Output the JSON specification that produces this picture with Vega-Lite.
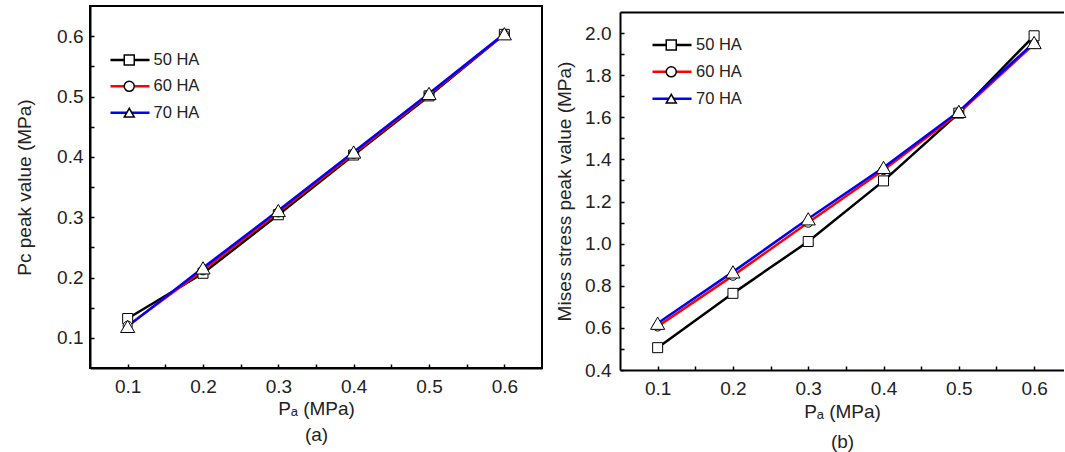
{
 "$schema": "https://vega.github.io/schema/vega-lite/v6.json",
 "padding": {"left": 14, "top": 5, "right": 0, "bottom": 0},
 "spacing": 12,
 "background": "white",
 "resolve": {"scale": {"color": "independent", "shape": "independent"}, "legend": {"color": "independent", "shape": "independent"}},
 "config": {
  "font": "Liberation Sans",
  "view": {"stroke": "black", "strokeWidth": 2},
  "axis": {"domainColor": "black", "domainWidth": 2, "tickColor": "black", "tickWidth": 1.5, "tickSize": -4, "grid": false,
   "labelFont": "Liberation Sans", "labelFontSize": 19, "labelColor": "#222", "titleFont": "Liberation Sans", "titleFontSize": 19,
   "titleFontWeight": "normal", "titleColor": "#222", "labelOverlap": false, "labelFlush": false},
  "legend": {"orient": "none", "padding": 0, "labelFont": "Liberation Sans", "labelFontSize": 16.5, "labelColor": "#222", "clipHeight": 16}
 },
 "datasets": {
  "a": [
   {"series": "50 HA", "pa": 0.1, "v": 0.132}, {"series": "50 HA", "pa": 0.2, "v": 0.207}, {"series": "50 HA", "pa": 0.3, "v": 0.304},
   {"series": "50 HA", "pa": 0.4, "v": 0.403}, {"series": "50 HA", "pa": 0.5, "v": 0.501}, {"series": "50 HA", "pa": 0.6, "v": 0.603},
   {"series": "60 HA", "pa": 0.1, "v": 0.12}, {"series": "60 HA", "pa": 0.2, "v": 0.212}, {"series": "60 HA", "pa": 0.3, "v": 0.308},
   {"series": "60 HA", "pa": 0.4, "v": 0.405}, {"series": "60 HA", "pa": 0.5, "v": 0.503}, {"series": "60 HA", "pa": 0.6, "v": 0.603},
   {"series": "70 HA", "pa": 0.1, "v": 0.119}, {"series": "70 HA", "pa": 0.2, "v": 0.216}, {"series": "70 HA", "pa": 0.3, "v": 0.311},
   {"series": "70 HA", "pa": 0.4, "v": 0.408}, {"series": "70 HA", "pa": 0.5, "v": 0.505}, {"series": "70 HA", "pa": 0.6, "v": 0.604}
  ],
  "b": [
   {"series": "50 HA", "pa": 0.1, "v": 0.506}, {"series": "50 HA", "pa": 0.2, "v": 0.764}, {"series": "50 HA", "pa": 0.3, "v": 1.01},
   {"series": "50 HA", "pa": 0.4, "v": 1.298}, {"series": "50 HA", "pa": 0.5, "v": 1.62}, {"series": "50 HA", "pa": 0.6, "v": 1.987},
   {"series": "60 HA", "pa": 0.1, "v": 0.607}, {"series": "60 HA", "pa": 0.2, "v": 0.848}, {"series": "60 HA", "pa": 0.3, "v": 1.1},
   {"series": "60 HA", "pa": 0.4, "v": 1.35}, {"series": "60 HA", "pa": 0.5, "v": 1.62}, {"series": "60 HA", "pa": 0.6, "v": 1.948},
   {"series": "70 HA", "pa": 0.1, "v": 0.622}, {"series": "70 HA", "pa": 0.2, "v": 0.866}, {"series": "70 HA", "pa": 0.3, "v": 1.118},
   {"series": "70 HA", "pa": 0.4, "v": 1.362}, {"series": "70 HA", "pa": 0.5, "v": 1.628}, {"series": "70 HA", "pa": 0.6, "v": 1.955}
  ]
 },
 "hconcat": [
  {
   "data": {"name": "a"},
   "width": 452,
   "height": 362,
   "encoding": {
    "x": {"field": "pa", "type": "quantitative", "scale": {"domain": [0.05, 0.65], "nice": false, "zero": false},
     "axis": {"orient": "bottom", "values": [0.1, 0.15, 0.2, 0.25, 0.3, 0.35, 0.4, 0.45, 0.5, 0.55, 0.6],
      "labelExpr": "round(datum.value*100)%10==0 ? format(datum.value,'.1f') : ''",
      "labelPadding": 13.5, "title": ["Pₐ (MPa)", "(a)"], "titlePadding": 3, "titleLineHeight": 26}},
    "y": {"field": "v", "type": "quantitative", "scale": {"domain": [0.05, 0.65], "nice": false, "zero": false},
     "axis": {"values": [0.1, 0.15, 0.2, 0.25, 0.3, 0.35, 0.4, 0.45, 0.5, 0.55, 0.6],
      "labelExpr": "round(datum.value*100)%10==0 ? format(datum.value,'.1f') : ''",
      "labelPadding": 11, "title": "Pc peak value (MPa)", "titlePadding": 22}}
   },
   "layer": [
    {"mark": {"type": "line", "strokeWidth": 2.5},
     "encoding": {"color": {"field": "series", "type": "nominal",
      "scale": {"domain": ["50 HA", "60 HA", "70 HA"], "range": ["#000000", "#ff0000", "#0000ff"]},
      "legend": {"title": null, "symbolType": "stroke", "symbolSize": 1521, "symbolStrokeWidth": 2.5, "labelOffset": 2.5,
       "legendX": 19, "legendY": 46, "rowPadding": 9.35}}}},
    {"mark": {"type": "point", "filled": true, "fill": "white", "stroke": "black", "strokeWidth": 1, "opacity": 1},
     "encoding": {
      "size": {"condition": [{"test": "datum.series === '70 HA'", "value": 200}, {"test": "datum.series === '60 HA'", "value": 85}], "value": 100},
      "shape": {"field": "series", "type": "nominal", "scale": {"range": ["square", "circle", "triangle-up"]},
      "legend": {"title": null, "symbolSize": 100, "labelExpr": "''", "legendX": 31, "legendY": 46, "rowPadding": 9.35,
       "encode": {"symbols": {"update": {"stroke": {"value": "black"}, "strokeWidth": {"value": 1}, "fill": {"value": "white"}, "opacity": {"value": 1},
        "size": {"signal": "datum.value === '70 HA' ? 170 : datum.value === '60 HA' ? 80 : 100"}}}}}}}}
   ]
  },
  {
   "data": {"name": "b"},
   "width": 444,
   "height": 364,
   "view": {"stroke": null},
   "encoding": {
    "y": {"field": "v", "type": "quantitative", "scale": {"domain": [0.4, 2.1], "range": [364, 6], "nice": false, "zero": false},
     "axis": {"values": [0.4, 0.5, 0.6, 0.7, 0.8, 0.9, 1.0, 1.1, 1.2, 1.3, 1.4, 1.5, 1.6, 1.7, 1.8, 1.9, 2.0],
      "labelExpr": "round(datum.value*10)%2==0 ? format(datum.value,'.1f') : ''",
      "labelPadding": 13, "title": "Mises stress peak value (MPa)", "titlePadding": 10}}
   },
   "layer": [
    {"mark": {"type": "line", "strokeWidth": 2.5},
     "encoding": {
      "x": {"field": "pa", "type": "quantitative", "scale": {"domain": [0.05, 0.6397], "nice": false, "zero": false},
       "axis": {"orient": "bottom", "values": [0.1, 0.15, 0.2, 0.25, 0.3, 0.35, 0.4, 0.45, 0.5, 0.55, 0.6],
        "labelExpr": "round(datum.value*100)%10==0 ? format(datum.value,'.1f') : ''",
        "labelPadding": 13.5, "title": ["Pₐ (MPa)", "(b)"], "titlePadding": 4, "titleLineHeight": 30}},
      "color": {"field": "series", "type": "nominal",
       "scale": {"domain": ["50 HA", "60 HA", "70 HA"], "range": ["#000000", "#ff0000", "#0000ff"]},
       "legend": {"title": null, "symbolType": "stroke", "symbolSize": 1521, "symbolStrokeWidth": 2.5, "labelOffset": 3,
        "legendX": 31, "legendY": 31, "rowPadding": 9.85}}}},
    {"mark": {"type": "point", "filled": true, "fill": "white", "stroke": "black", "strokeWidth": 1, "opacity": 1},
     "encoding": {
      "x": {"field": "pa", "type": "quantitative", "scale": {"domain": [0.05, 0.6397], "nice": false, "zero": false},
       "axis": {"orient": "top", "labels": false, "ticks": false, "title": null, "domain": true, "offset": -6}},
      "size": {"condition": [{"test": "datum.series === '70 HA'", "value": 200}, {"test": "datum.series === '60 HA'", "value": 85}], "value": 100},
      "shape": {"field": "series", "type": "nominal", "scale": {"range": ["square", "circle", "triangle-up"]},
       "legend": {"title": null, "symbolSize": 100, "labelExpr": "''", "legendX": 43, "legendY": 31, "rowPadding": 9.85,
        "encode": {"symbols": {"update": {"stroke": {"value": "black"}, "strokeWidth": {"value": 1}, "fill": {"value": "white"}, "opacity": {"value": 1},
         "size": {"signal": "datum.value === '70 HA' ? 200 : datum.value === '60 HA' ? 90 : 110"}}}}}}}}
   ]
  }
 ]
}
